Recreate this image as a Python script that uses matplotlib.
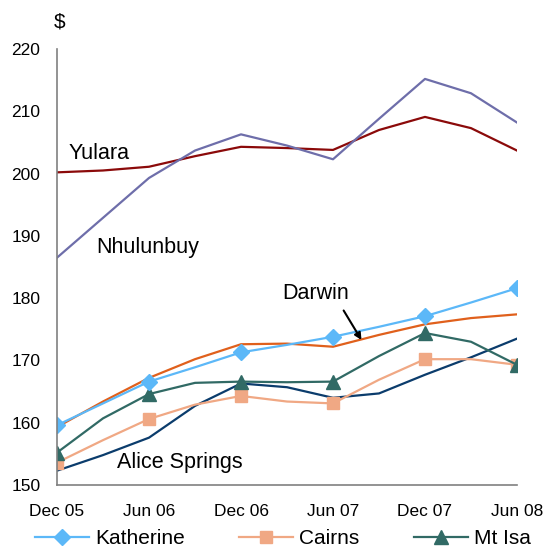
import matplotlib
matplotlib.use("Agg")
import matplotlib.pyplot as plt

# quarterly points, Dec 05 .. Jun 08
quarters = ["Dec 05", "Mar 06", "Jun 06", "Sep 06", "Dec 06", "Mar 07",
            "Jun 07", "Sep 07", "Dec 07", "Mar 08", "Jun 08"]
tick_labels = ["Dec 05", "Jun 06", "Dec 06", "Jun 07", "Dec 07", "Jun 08"]

katherine = [159.6, 163.1, 166.6, 168.9, 171.3, 172.5, 173.8, 175.4, 177.1, 179.3, 181.6]
cairns = [153.6, 157.2, 160.6, 162.9, 164.3, 163.4, 163.1, 166.9, 170.2, 170.2, 169.3]
mt_isa = [155.2, 160.7, 164.6, 166.4, 166.6, 166.5, 166.6, 170.7, 174.4, 173.0, 169.3]
darwin = [159.3, 163.4, 167.2, 170.2, 172.6, 172.7, 172.2, 174.1, 175.8, 176.8, 177.4]
yulara = [200.2, 200.5, 201.1, 202.8, 204.3, 204.1, 203.8, 207.0, 209.1, 207.3, 203.7]
nhulunbuy = [186.5, 192.9, 199.3, 203.7, 206.3, 204.5, 202.3, 208.8, 215.2, 212.9, 208.2]
alice_springs = [152.3, 154.8, 157.6, 162.7, 166.3, 165.7, 164.0, 164.7, 167.7, 170.5, 173.5]

plt.rcParams["font.family"] = ["Liberation Sans", "DejaVu Sans"]

x = list(range(len(quarters)))
fig = plt.figure(figsize=(5.6, 5.51), dpi=100)
ax = fig.add_axes([0.1018, 0.1198, 0.8214, 0.7912])

ax.plot(x, yulara, color="#8B0A0A", lw=1.6)
ax.plot(x, nhulunbuy, color="#6E6EAA", lw=1.6)
ax.plot(x, alice_springs, color="#0B3C6C", lw=1.6)
ax.plot(x, darwin, color="#E0601C", lw=1.6)
l1, = ax.plot(x, cairns, color="#F0A884", lw=1.6, marker="s", ms=8,
              markevery=2, label="Cairns")
l2, = ax.plot(x, mt_isa, color="#316A65", lw=1.6, marker="^", ms=10,
              markevery=2, label="Mt Isa")
l0, = ax.plot(x, katherine, color="#5CB8F8", lw=1.6, marker="D", ms=8.5,
              markevery=2, label="Katherine")

ax.set_xlim(0, 10)
ax.set_ylim(150, 220)
ax.set_yticks(range(150, 221, 10))
ax.set_xticks(x[::2])
ax.set_xticklabels(tick_labels)
ax.tick_params(length=0, labelsize=12.5)
ax.tick_params(axis="y", pad=12)
ax.tick_params(axis="x", pad=14)
for s in ["top", "right"]:
    ax.spines[s].set_visible(False)
for s in ["left", "bottom"]:
    ax.spines[s].set_color("#808080")
    ax.spines[s].set_linewidth(1.2)

fs = 15.5
ax.text(0.26, 203.3, "Yulara", fontsize=fs, va="center")
ax.text(0.86, 188.1, "Nhulunbuy", fontsize=fs, va="center")
ax.text(1.3, 153.6, "Alice Springs", fontsize=fs, va="center")
ax.text(4.9, 180.7, "Darwin", fontsize=fs, va="center")
ax.annotate("", xy=(6.65, 172.9), xytext=(6.2, 178.4),
            arrowprops=dict(arrowstyle="-|>", color="black", lw=1.5,
                            mutation_scale=10))
fig.text(60 / 560, 1 - 22 / 551, "$", fontsize=15, ha="center", va="center")

fig.legend(handles=[l0, l1, l2], loc="center", ncol=3,
           bbox_to_anchor=(0.505, 1 - 539 / 551), frameon=False, fontsize=15,
           handlelength=2.6, handletextpad=0.3, columnspacing=2.6,
           borderpad=0, borderaxespad=0)

fig.savefig("out.png", dpi=100)
